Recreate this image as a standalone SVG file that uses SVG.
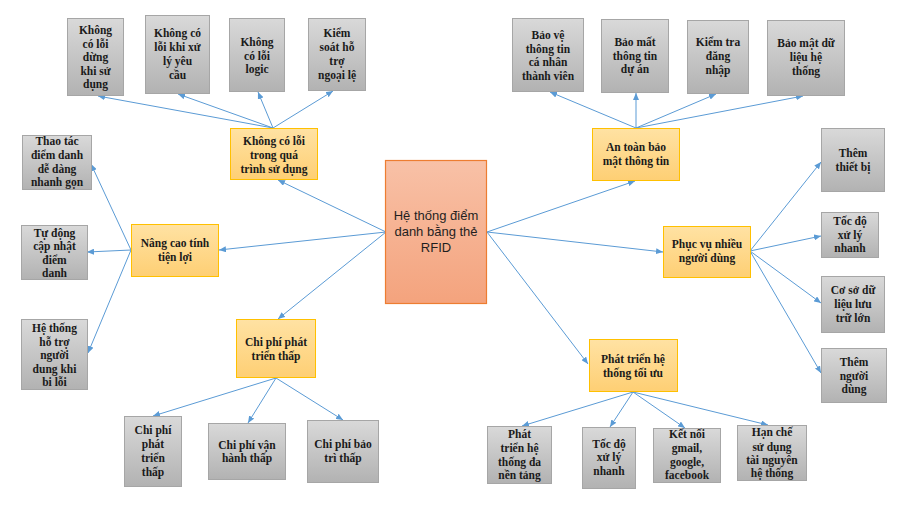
<svg xmlns="http://www.w3.org/2000/svg" width="913" height="507" viewBox="0 0 913 507">
<defs>
<linearGradient id="gGray" x1="0" y1="0" x2="0" y2="1"><stop offset="0" stop-color="#d9d9d9"/><stop offset="1" stop-color="#b2b2b2"/></linearGradient>
<linearGradient id="gYel" x1="0" y1="0" x2="0" y2="1"><stop offset="0" stop-color="#ffe2a3"/><stop offset="1" stop-color="#fecf74"/></linearGradient>
<linearGradient id="gCen" x1="0" y1="0" x2="0" y2="1"><stop offset="0" stop-color="#f8c1a7"/><stop offset="1" stop-color="#f4a37d"/></linearGradient>
<marker id="arr" markerWidth="7" markerHeight="6" refX="7" refY="3" orient="auto" markerUnits="userSpaceOnUse"><path d="M0,0 L7,3 L0,6 Z" fill="#5b9bd5"/></marker>
<style>
.gray{fill:url(#gGray);stroke:#a6a6a6;stroke-width:1}
.yel{fill:url(#gYel);stroke:#ffc000;stroke-width:1}
.cen{fill:url(#gCen);stroke:#ed7d31;stroke-width:1.2}
.t{font-family:"Liberation Serif","Times New Roman",serif;font-weight:bold;font-size:11.5px;fill:#1a1a1a;text-anchor:middle}
.ct{font-family:"Liberation Sans",Arial,sans-serif;font-size:13px;fill:#1f1f1f;text-anchor:middle}
.c line{stroke:#5b9bd5;stroke-width:1;marker-end:url(#arr)}
</style>
</defs>
<rect width="913" height="507" fill="#ffffff"/>
<g class="c" id="connectors">
<line x1="386" y1="232" x2="278" y2="180"/>
<line x1="386" y1="232" x2="219" y2="250"/>
<line x1="386" y1="232" x2="278" y2="319"/>
<line x1="487" y1="232" x2="635" y2="181"/>
<line x1="487" y1="232" x2="663" y2="252"/>
<line x1="487" y1="232" x2="588" y2="364"/>
<line x1="273" y1="128" x2="98" y2="96"/>
<line x1="273" y1="128" x2="178" y2="94"/>
<line x1="273" y1="128" x2="258" y2="92"/>
<line x1="273" y1="128" x2="333" y2="91"/>
<line x1="636" y1="128" x2="550" y2="92"/>
<line x1="636" y1="128" x2="636" y2="93"/>
<line x1="636" y1="128" x2="716" y2="94"/>
<line x1="636" y1="128" x2="803" y2="96"/>
<line x1="131" y1="250" x2="91" y2="164"/>
<line x1="131" y1="250" x2="87" y2="252"/>
<line x1="131" y1="250" x2="88" y2="353"/>
<line x1="750" y1="251" x2="821" y2="162"/>
<line x1="750" y1="251" x2="821" y2="236"/>
<line x1="750" y1="251" x2="821" y2="303"/>
<line x1="750" y1="251" x2="821" y2="373"/>
<line x1="276" y1="378" x2="153" y2="416"/>
<line x1="276" y1="378" x2="248" y2="423"/>
<line x1="276" y1="378" x2="343" y2="420"/>
<line x1="633" y1="392" x2="522" y2="426"/>
<line x1="633" y1="392" x2="610" y2="427"/>
<line x1="633" y1="392" x2="685" y2="428"/>
<line x1="633" y1="392" x2="768" y2="425"/>
</g>
<g id="center"><rect class="cen" x="385.5" y="160.5" width="101" height="143"/>
<text class="ct" x="436" y="220">Hệ thống điểm</text><text class="ct" x="436" y="236">danh bằng thẻ</text><text class="ct" x="436" y="252">RFID</text></g>

<g id="khong-loi"><rect class="yel" x="230.5" y="128.5" width="87" height="51"/>
<text class="t" x="274" y="145">Không có lỗi</text><text class="t" x="274" y="159">trong quá</text><text class="t" x="274" y="173">trình sử dụng</text></g>
<g id="an-toan"><rect class="yel" x="592.5" y="128.5" width="87" height="52"/>
<text class="t" x="636" y="151">An toàn bảo</text><text class="t" x="636" y="165">mật thông tin</text></g>
<g id="nang-cao"><rect class="yel" x="131.5" y="224.5" width="87" height="52"/>
<text class="t" x="175" y="247">Nâng cao tính</text><text class="t" x="175" y="261">tiện lợi</text></g>
<g id="phuc-vu"><rect class="yel" x="663.5" y="226.5" width="87" height="51"/>
<text class="t" x="707" y="248">Phục vụ nhiều</text><text class="t" x="707" y="262">người dùng</text></g>
<g id="chi-phi"><rect class="yel" x="236.5" y="319.5" width="79" height="58"/>
<text class="t" x="276" y="346">Chi phí phát</text><text class="t" x="276" y="360">triển thấp</text></g>
<g id="phat-trien"><rect class="yel" x="589.5" y="339.5" width="88" height="52"/>
<text class="t" x="633" y="363">Phát triển hệ</text><text class="t" x="633" y="377">thống tối ưu</text></g>

<g id="n1"><rect class="gray" x="67.5" y="18.5" width="56" height="77"/>
<text class="t" x="95.5" y="34">Không</text><text class="t" x="95.5" y="47.5">có lỗi</text><text class="t" x="95.5" y="61">dừng</text><text class="t" x="95.5" y="74.5">khi sử</text><text class="t" x="95.5" y="88">dụng</text></g>
<g id="n2"><rect class="gray" x="145.5" y="15.5" width="64" height="78"/>
<text class="t" x="177.5" y="37">Không có</text><text class="t" x="177.5" y="51">lỗi khi xử</text><text class="t" x="177.5" y="65">lý yêu</text><text class="t" x="177.5" y="79">cầu</text></g>
<g id="n3"><rect class="gray" x="229.5" y="18.5" width="55" height="73"/>
<text class="t" x="257" y="46">Không</text><text class="t" x="257" y="59.5">có lỗi</text><text class="t" x="257" y="73">logic</text></g>
<g id="n4"><rect class="gray" x="308.5" y="18.5" width="57" height="72"/>
<text class="t" x="337" y="37">Kiểm</text><text class="t" x="337" y="51">soát hỗ</text><text class="t" x="337" y="65">trợ</text><text class="t" x="337" y="79">ngoại lệ</text></g>

<g id="n5"><rect class="gray" x="512.5" y="18.5" width="71" height="73"/>
<text class="t" x="548" y="39">Bảo vệ</text><text class="t" x="548" y="52.5">thông tin</text><text class="t" x="548" y="66">cá nhân</text><text class="t" x="548" y="79.5">thành viên</text></g>
<g id="n6"><rect class="gray" x="601.5" y="19.5" width="67" height="73"/>
<text class="t" x="635" y="46">Bảo mất</text><text class="t" x="635" y="59.5">thông tin</text><text class="t" x="635" y="73">dự án</text></g>
<g id="n7"><rect class="gray" x="687.5" y="20.5" width="61" height="73"/>
<text class="t" x="718" y="46">Kiểm tra</text><text class="t" x="718" y="60">đăng</text><text class="t" x="718" y="74">nhập</text></g>
<g id="n8"><rect class="gray" x="767.5" y="20.5" width="77" height="75"/>
<text class="t" x="806" y="47">Bảo mật dữ</text><text class="t" x="806" y="61">liệu hệ</text><text class="t" x="806" y="75">thống</text></g>

<g id="n9"><rect class="gray" x="22.5" y="135.5" width="69" height="54"/>
<text class="t" x="57" y="145">Thao tác</text><text class="t" x="57" y="159">điểm danh</text><text class="t" x="57" y="173">dễ dàng</text><text class="t" x="57" y="186">nhanh gọn</text></g>
<g id="n10"><rect class="gray" x="21.5" y="225.5" width="66" height="54"/>
<text class="t" x="54.5" y="237">Tự động</text><text class="t" x="54.5" y="250">cập nhật</text><text class="t" x="54.5" y="264">điểm</text><text class="t" x="54.5" y="277">danh</text></g>
<g id="n11"><rect class="gray" x="21.5" y="319.5" width="66" height="70"/>
<text class="t" x="54.5" y="332">Hệ thống</text><text class="t" x="54.5" y="346">hỗ trợ</text><text class="t" x="54.5" y="359">người</text><text class="t" x="54.5" y="373">dung khi</text><text class="t" x="54.5" y="386">bi lỗi</text></g>

<g id="n12"><rect class="gray" x="821.5" y="128.5" width="63" height="63"/>
<text class="t" x="853" y="157">Thêm</text><text class="t" x="853" y="171">thiết bị</text></g>
<g id="n13"><rect class="gray" x="821.5" y="212.5" width="57" height="45"/>
<text class="t" x="850" y="225">Tốc độ</text><text class="t" x="850" y="239">xử lý</text><text class="t" x="850" y="252">nhanh</text></g>
<g id="n14"><rect class="gray" x="821.5" y="276.5" width="63" height="56"/>
<text class="t" x="853" y="294">Cơ sở dữ</text><text class="t" x="853" y="308">liệu lưu</text><text class="t" x="853" y="322">trữ lớn</text></g>
<g id="n15"><rect class="gray" x="821.5" y="348.5" width="65" height="54"/>
<text class="t" x="854" y="366">Thêm</text><text class="t" x="854" y="380">người</text><text class="t" x="854" y="393">dùng</text></g>

<g id="n16"><rect class="gray" x="124.5" y="416.5" width="57" height="70"/>
<text class="t" x="153" y="434">Chi phí</text><text class="t" x="153" y="448">phát</text><text class="t" x="153" y="462">triển</text><text class="t" x="153" y="476">thấp</text></g>
<g id="n17"><rect class="gray" x="208.5" y="423.5" width="77" height="56"/>
<text class="t" x="247" y="449">Chi phí vận</text><text class="t" x="247" y="462">hành thấp</text></g>
<g id="n18"><rect class="gray" x="307.5" y="420.5" width="71" height="62"/>
<text class="t" x="343" y="448">Chi phí bảo</text><text class="t" x="343" y="462">trì thấp</text></g>

<g id="n19"><rect class="gray" x="487.5" y="426.5" width="64" height="57"/>
<text class="t" x="519.5" y="438">Phát</text><text class="t" x="519.5" y="452">triển hệ</text><text class="t" x="519.5" y="466">thống đa</text><text class="t" x="519.5" y="479">nền tảng</text></g>
<g id="n20"><rect class="gray" x="582.5" y="427.5" width="53" height="61"/>
<text class="t" x="609" y="448">Tốc độ</text><text class="t" x="609" y="461">xử lý</text><text class="t" x="609" y="475">nhanh</text></g>
<g id="n21"><rect class="gray" x="653.5" y="428.5" width="67" height="54"/>
<text class="t" x="687" y="438">Kết nối</text><text class="t" x="687" y="452">gmail,</text><text class="t" x="687" y="466">google,</text><text class="t" x="687" y="479">facebook</text></g>
<g id="n22"><rect class="gray" x="737.5" y="425.5" width="69" height="55"/>
<text class="t" x="772" y="436">Hạn chế</text><text class="t" x="772" y="451">sử dụng</text><text class="t" x="772" y="464">tài nguyên</text><text class="t" x="772" y="477">hệ thống</text></g>
</svg>
